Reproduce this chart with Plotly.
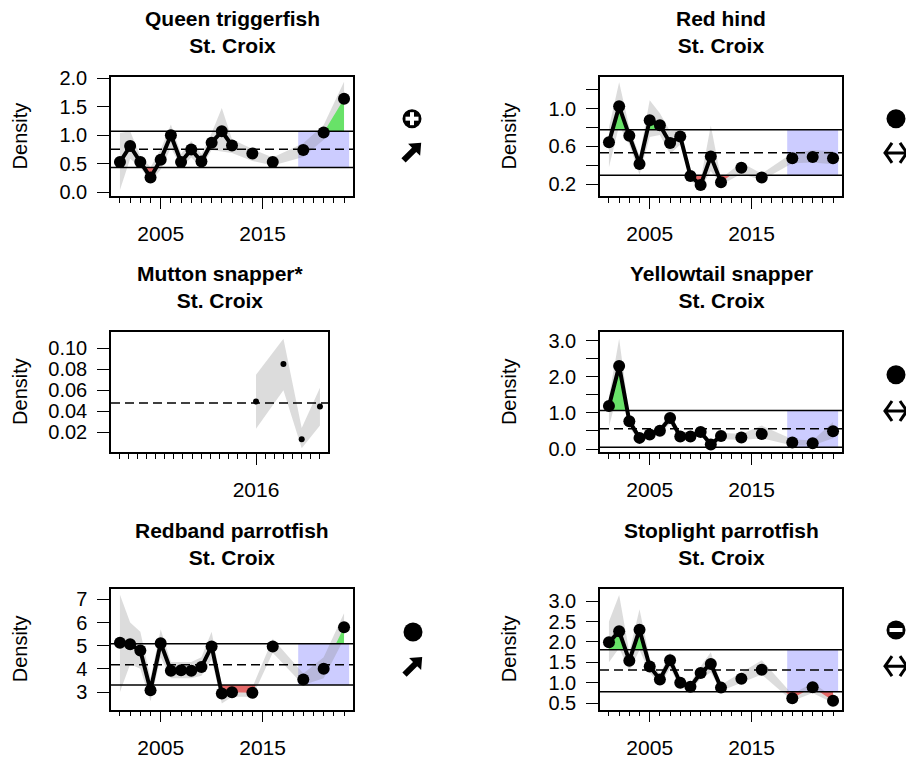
import math
import plotly.graph_objects as go

# the page body adds an 8px margin, so the figure is 8px smaller and all
# reference pixel positions are shifted by OFF
OFF = 8
W, H = 914 - OFF, 768 - OFF

years = [2001, 2002, 2003, 2004, 2005, 2006, 2007, 2008, 2009, 2010, 2011, 2012,
         2014, 2016, 2019, 2021, 2023]

# Queen triggerfish
queen_y = [0.53, 0.81, 0.53, 0.26, 0.57, 1.00, 0.53, 0.75, 0.54, 0.87, 1.07, 0.82,
           0.68, 0.53, 0.74, 1.05, 1.64]
queen_lo = [0.04, 0.59, 0.44, 0.18, 0.40, 0.78, 0.44, 0.61, 0.44, 0.74, 0.72, 0.69,
            0.55, 0.47, 0.62, 0.92, 1.45]
queen_hi = [1.04, 1.07, 0.64, 0.44, 0.75, 1.19, 0.67, 0.90, 0.67, 1.04, 1.48, 0.93,
            0.76, 0.61, 0.86, 1.18, 1.94]
queen_ref = [0.435, 0.756, 1.07]

# Red hind
redhind_y = [0.643, 1.024, 0.712, 0.414, 0.878, 0.823, 0.636, 0.705, 0.286, 0.19, 0.494, 0.221,
             0.373, 0.27, 0.474, 0.488, 0.474]
redhind_lo = [0.38, 0.82, 0.62, 0.30, 0.70, 0.72, 0.52, 0.62, 0.24, 0.15, 0.34, 0.19,
              0.31, 0.24, 0.42, 0.43, 0.41]
redhind_hi = [0.80, 1.28, 0.80, 0.50, 1.09, 0.95, 0.76, 0.78, 0.33, 0.24, 0.82, 0.26,
              0.43, 0.31, 0.53, 0.56, 0.55]
redhind_ref = [0.293, 0.532, 0.775]

# Mutton snapper
mutton_years = [2016, 2019, 2021, 2023]
mutton_y = [0.0494, 0.085, 0.0135, 0.0447]
mutton_lo = [0.0236, 0.060, 0.005, 0.0267]
mutton_hi = [0.0747, 0.1088, 0.0242, 0.0623]
mutton_ref = [None, 0.048, None]

# Yellowtail snapper
yellow_y = [1.19, 2.30, 0.77, 0.31, 0.40, 0.51, 0.86, 0.35, 0.35, 0.47, 0.13, 0.36,
            0.32, 0.42, 0.18, 0.16, 0.49]
yellow_lo = [0.62, 1.70, 0.60, 0.22, 0.30, 0.42, 0.70, 0.27, 0.27, 0.38, 0.08, 0.28,
             0.25, 0.30, 0.10, 0.10, 0.30]
yellow_hi = [1.45, 3.05, 0.95, 0.40, 0.50, 0.62, 1.00, 0.43, 0.45, 0.56, 0.20, 0.45,
             0.42, 0.65, 0.27, 0.24, 0.75]
yellow_ref = [0.054, 0.559, 1.07]

# Redband parrotfish
redband_y = [5.13, 5.06, 4.79, 3.08, 5.11, 3.92, 3.94, 3.92, 4.08, 4.97, 2.94, 2.99,
             2.97, 4.97, 3.54, 4.00, 5.80]
redband_lo = [3.0, 4.2, 4.0, 2.6, 4.5, 3.6, 3.6, 3.6, 3.7, 4.4, 2.5, 2.8,
              2.8, 4.7, 3.3, 3.6, 5.3]
redband_hi = [7.2, 6.0, 5.6, 3.6, 5.7, 4.3, 4.3, 4.3, 4.5, 5.6, 3.3, 3.2,
              3.2, 5.3, 3.8, 4.5, 6.4]
redband_ref = [3.30, 4.18, 5.08]

# Stoplight parrotfish
stop_y = [1.99, 2.26, 1.54, 2.30, 1.40, 1.08, 1.55, 1.00, 0.90, 1.24, 1.46, 0.88,
          1.10, 1.32, 0.62, 0.89, 0.56]
stop_lo = [1.50, 1.85, 1.30, 1.80, 1.25, 0.95, 1.35, 0.90, 0.80, 1.10, 1.25, 0.80,
           1.00, 1.20, 0.55, 0.75, 0.50]
stop_hi = [2.50, 3.15, 1.75, 2.80, 1.60, 1.20, 1.75, 1.10, 1.00, 1.40, 1.75, 0.95,
           1.25, 1.55, 0.72, 1.00, 0.65]
stop_ref = [0.78, 1.31, 1.81]

panels = [
    dict(title="Queen triggerfish", x=years, y=queen_y, lo=queen_lo, hi=queen_hi, ref=queen_ref,
         box=(111, 69, 353, 191.3), yr=[-0.07, 2.03],
         yt=[0, 0.5, 1, 1.5, 2], ytt=["0.0", "0.5", "1.0", "1.5", "2.0"],
         xt=[2005, 2010, 2015, 2020], xtt=["2005", "", "2015", ""], ms=12,
         sym=("plus", "up", 412, 112, 146)),
    dict(title="Red hind", x=years, y=redhind_y, lo=redhind_lo, hi=redhind_hi, ref=redhind_ref,
         box=(600, 69, 842, 191.3), yr=[0.072, 1.339],
         yt=[0.2, 0.4, 0.6, 0.8, 1.0, 1.2], ytt=["0.2", "", "0.6", "", "1.0", ""],
         xt=[2005, 2010, 2015, 2020], xtt=["2005", "", "2015", ""], ms=12,
         sym=("dot", "flat", 896, 112, 147)),
    dict(title="Mutton snapper*", x=mutton_years, y=mutton_y, lo=mutton_lo, hi=mutton_hi, ref=mutton_ref,
         box=(111, 330, 328, 453), yr=[0.0014, 0.1155],
         yt=[0.02, 0.04, 0.06, 0.08, 0.10], ytt=["0.02", "0.04", "0.06", "0.08", "0.10"],
         xt=[2016, 2019, 2021, 2023], xtt=["2016", "", "", ""], ms=6, sym=None),
    dict(title="Yellowtail snapper", x=years, y=yellow_y, lo=yellow_lo, hi=yellow_hi, ref=yellow_ref,
         box=(600, 330, 842, 453.3), yr=[-0.09, 3.243],
         yt=[0, 0.5, 1, 1.5, 2, 2.5, 3], ytt=["0.0", "", "1.0", "", "2.0", "", "3.0"],
         xt=[2005, 2010, 2015, 2020], xtt=["2005", "", "2015", ""], ms=12,
         sym=("dot", "flat", 896, 374, 411)),
    dict(title="Redband parrotfish", x=years, y=redband_y, lo=redband_lo, hi=redband_hi, ref=redband_ref,
         box=(111, 593, 353, 716.5), yr=[2.24, 7.45],
         yt=[3, 4, 5, 6, 7], ytt=["3", "4", "5", "6", "7"],
         xt=[2005, 2010, 2015, 2020], xtt=["2005", "", "2015", ""], ms=12,
         sym=("dot", "up", 413, 637, 672)),
    dict(title="Stoplight parrotfish", x=years, y=stop_y, lo=stop_lo, hi=stop_hi, ref=stop_ref,
         box=(600, 593, 842, 716.5), yr=[0.34, 3.30],
         yt=[0.5, 1, 1.5, 2, 2.5, 3], ytt=["0.5", "1.0", "1.5", "2.0", "2.5", "3.0"],
         xt=[2005, 2010, 2015, 2020], xtt=["2005", "", "2015", ""], ms=12,
         sym=("minus", "flat", 896, 635, 672)),
]

FONT = "Liberation Sans, Arial, sans-serif"
GREEN = "rgb(104,226,104)"
RED = "rgb(228,104,104)"
BLUE = "rgb(204,204,255)"
BAND = "rgba(140,140,140,0.30)"


def px_x(p):
    return (p - OFF) / W


def px_y(p):
    return 1 - (p - OFF) / H


def clip_fill(xs, ys, thr, above):
    fx, fy = [], []
    for i in range(len(xs)):
        if i > 0:
            y0, y1 = ys[i - 1], ys[i]
            if (y0 - thr) * (y1 - thr) < 0:
                t = (thr - y0) / (y1 - y0)
                fx.append(xs[i - 1] + t * (xs[i] - xs[i - 1]))
                fy.append(thr)
        fx.append(xs[i])
        fy.append(ys[i])
    fy = [max(v, thr) if above else min(v, thr) for v in fy]
    return fx + fx[::-1], fy + [thr] * len(fx)


def gapped(xs, ys):
    lx, ly = [], []
    for i in range(len(xs)):
        if i > 0 and xs[i] - xs[i - 1] > 1:
            lx.append(None)
            ly.append(None)
        lx.append(xs[i])
        ly.append(ys[i])
    return lx, ly


def pix_shape(cx, cy, **kw):
    d = dict(xref="paper", yref="paper", xsizemode="pixel", ysizemode="pixel",
             xanchor=px_x(cx), yanchor=px_y(cy))
    d.update(kw)
    return d


def up_arrow_path():
    # thick north-east arrow, pixel units around the symbol centre (y up)
    c, s = math.cos(math.pi / 4), math.sin(math.pi / 4)
    pts = [(-12, -3), (3, -3), (3, -8.5), (13, 0), (3, 8.5), (3, 3), (-12, 3)]
    rot = [(px * c - py * s, px * s + py * c) for px, py in pts]
    return "M " + " L ".join(f"{a:.2f},{b:.2f}" for a, b in rot) + " Z"


fig = go.Figure()
shapes, annos = [], []

for k, p in enumerate(panels, start=1):
    sfx = "" if k == 1 else str(k)
    xa, ya = f"x{sfx}", f"y{sfx}"
    l, t, r, b = p["box"]
    lo_thr, mean, up_thr = p["ref"]

    # confidence band
    fig.add_trace(go.Scatter(x=p["x"] + p["x"][::-1], y=p["hi"] + p["lo"][::-1],
                             fill="toself", fillcolor=BAND, line=dict(width=0),
                             mode="lines", hoverinfo="skip", xaxis=xa, yaxis=ya))
    if up_thr is not None:
        fx, fy = clip_fill(p["x"], p["y"], up_thr, True)
        fig.add_trace(go.Scatter(x=fx, y=fy, fill="toself", fillcolor=GREEN, line=dict(width=0),
                                 mode="lines", hoverinfo="skip", xaxis=xa, yaxis=ya))
        fx, fy = clip_fill(p["x"], p["y"], lo_thr, False)
        fig.add_trace(go.Scatter(x=fx, y=fy, fill="toself", fillcolor=RED, line=dict(width=0),
                                 mode="lines", hoverinfo="skip", xaxis=xa, yaxis=ya))
        shapes.append(dict(type="rect", xref=xa, yref=ya, x0=2018.5, x1=2023.5,
                           y0=lo_thr, y1=up_thr, fillcolor=BLUE, line=dict(width=0), layer="below"))
        for v in (lo_thr, up_thr):
            shapes.append(dict(type="line", xref=f"{xa} domain", yref=ya, x0=0, x1=1, y0=v, y1=v,
                               line=dict(color="black", width=1.5), layer="above"))
    shapes.append(dict(type="line", xref=f"{xa} domain", yref=ya, x0=0, x1=1, y0=mean, y1=mean,
                       line=dict(color="black", width=1.5, dash="9px,5px"), layer="above"))

    lx, ly = gapped(p["x"], p["y"])
    fig.add_trace(go.Scatter(x=lx, y=ly, mode="lines", line=dict(color="black", width=4),
                             hoverinfo="skip", xaxis=xa, yaxis=ya))
    fig.add_trace(go.Scatter(x=p["x"], y=p["y"], mode="markers",
                             marker=dict(color="black", size=p["ms"]), xaxis=xa, yaxis=ya))

    axis_common = dict(showline=True, mirror=True, linecolor="black", linewidth=1.5,
                       showgrid=False, zeroline=False, ticks="outside", tickcolor="black",
                       tickwidth=1.3)
    fig.update_layout({
        f"xaxis{sfx}": dict(domain=[px_x(l), px_x(r)], anchor=ya, range=[2000.12, 2023.88],
                            tickmode="array", tickvals=p["xt"], ticktext=p["xtt"], ticklen=11,
                            ticklabelstandoff=7,
                            tickfont=dict(size=21, color="black", family=FONT),
                            minor=dict(tickvals=list(range(2001, 2024)), ticks="outside", ticklen=5,
                                       tickwidth=1.3, tickcolor="black"),
                            **axis_common),
        f"yaxis{sfx}": dict(domain=[px_y(b), px_y(t)], anchor=xa, range=p["yr"],
                            tickmode="array", tickvals=p["yt"], ticktext=p["ytt"], ticklen=12,
                            ticklabelstandoff=6,
                            tickfont=dict(size=20, color="black", family=FONT),
                            **axis_common),
    })

    annos.append(dict(text=f"<b>{p['title']}<br>St. Croix</b>", xref="paper", yref="paper",
                      x=px_x((l + r) / 2), y=px_y(t - 46), xanchor="center", yanchor="middle",
                      showarrow=False, font=dict(size=21, color="black", family=FONT)))
    annos.append(dict(text="Density", xref="paper", yref="paper", textangle=-90,
                      x=px_x(l - 91), y=px_y((t + b) / 2), xanchor="center", yanchor="middle",
                      showarrow=False, font=dict(size=20, color="black", family=FONT)))

    if p["sym"]:
        status, trend, cx, cy1, cy2 = p["sym"]
        shapes.append(pix_shape(cx, cy1, type="circle", x0=-9.5, x1=9.5, y0=-9.5, y1=9.5,
                                fillcolor="black", line=dict(width=0)))
        bars = []
        if status in ("plus", "minus"):
            bars.append((-6.5, 6.5, -2, 2))
        if status == "plus":
            bars.append((-2, 2, -6.5, 6.5))
        for x0, x1, y0, y1 in bars:
            shapes.append(pix_shape(cx, cy1, type="rect", x0=x0, x1=x1, y0=y0, y1=y1,
                                    fillcolor="white", line=dict(width=0)))
        if trend == "up":
            shapes.append(pix_shape(cx, cy2, type="path", path=up_arrow_path(),
                                    fillcolor="black", line=dict(width=0)))
        else:
            shapes.append(pix_shape(cx, cy2, type="path",
                                    path="M -4,10 Q -8,4 -11,0 Q -8,-4 -4,-10 "
                                         "M 4,10 Q 8,4 11,0 Q 8,-4 4,-10 M -11,0 L 11,0",
                                    line=dict(color="black", width=3)))

fig.update_layout(width=W, height=H, margin=dict(l=0, r=0, t=0, b=0),
                  paper_bgcolor="white", plot_bgcolor="white", showlegend=False,
                  font=dict(family=FONT, color="black"), shapes=shapes, annotations=annos)

fig.write_html("out.html")
